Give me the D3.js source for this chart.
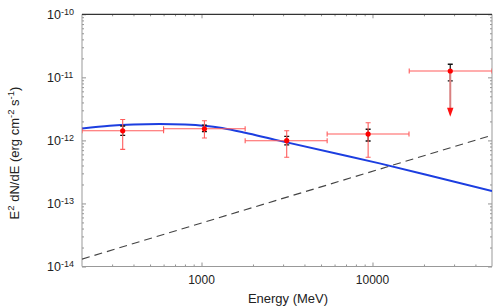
<!DOCTYPE html>
<html>
<head>
<meta charset="utf-8">
<script src="https://cdn.jsdelivr.net/npm/d3@7"></script>
<style>
  body { margin: 0; background: #fff; }
  text { font-family: "Liberation Sans", Arial, sans-serif; fill: #222; }
</style>
</head>
<body>
<div id="chart"></div>
<script>
// data points (energy in MeV, flux in erg cm^-2 s^-1)
var energy   = [346, 1040, 3150, 9430, 28500];
var eLow     = [200, 600, 1800, 5430, 16400];
var eHigh    = [600, 1800, 5430, 16350, 50000];
var flux     = [1.42e-12, 1.53e-12, 9.9e-13, 1.26e-12, 1.26e-11];
var statLow  = [1.2e-12, 1.38e-12, 8.5e-13, 9.8e-13, 8.8e-12];
var statHigh = [1.69e-12, 1.75e-12, 1.16e-12, 1.5e-12, 1.61e-11];
var sysLow   = [7.2e-13, 1.09e-12, 5.4e-13, 5.4e-13, null];
var sysHigh  = [2.15e-12, 2.05e-12, 1.42e-12, 1.9e-12, null];
var upperLimitTo = [null, null, null, null, 2.37e-12];

// blue model curve
var modelE    = [200, 290, 400, 570, 800, 1040, 1320, 1800, 2800, 11000, 50000];
var modelFlux = [1.55e-12, 1.71e-12, 1.79e-12, 1.82e-12, 1.79e-12, 1.71e-12, 1.57e-12, 1.32e-12, 1.0e-12, 4.32e-13, 1.58e-13];

// dashed line
var dashE    = [200, 50000];
var dashFlux = [1.31e-14, 1.21e-12];

// tick labels
var xTicks = [1000, 10000];
var xTickLabels = ["1000", "10000"];
var yTicks = [1e-10, 1e-11, 1e-12, 1e-13, 1e-14];
var yTickExp = ["-10", "-11", "-12", "-13", "-14"];

var W = 496, H = 308;
var pLeft = 82, pRight = 492, pTop = 14.3, pBottom = 266.5;

var svg = d3.select("#chart").append("svg")
    .attr("width", W).attr("height", H);

var x = d3.scaleLog().domain([200, 50000]).range([pLeft, pRight]);
var y = d3.scaleLog().domain([1e-14, 1e-10]).range([pBottom, pTop]);

var minorX = x.ticks().filter(function (d) { return xTicks.indexOf(d) < 0 && d > 200 && d < 50000; });
var minorY = y.ticks().filter(function (d) { return yTicks.indexOf(d) < 0; });

//////////
// AXES //
//////////
function drawTicks(axisFn, transform, majors, minors, majorLen, minorLen) {
    var g = svg.append("g").attr("transform", transform);
    g.call(axisFn(majors, majorLen));
    g.append("g").call(axisFn(minors, minorLen));
    g.selectAll(".domain").remove();
    g.selectAll("line").attr("stroke", "#777").attr("stroke-width", 0.8);
    g.selectAll("text").remove();
    return g;
}

drawTicks(function (v, l) { return d3.axisBottom(x).tickValues(v).tickSize(-l); },
    "translate(0," + pBottom + ")", xTicks, minorX, 4, 2);
drawTicks(function (v, l) { return d3.axisTop(x).tickValues(v).tickSize(-l); },
    "translate(0," + pTop + ")", xTicks, minorX, 4, 2);
drawTicks(function (v, l) { return d3.axisLeft(y).tickValues(v).tickSize(-l); },
    "translate(" + pLeft + ",0)", yTicks, minorY, 4, 2);
drawTicks(function (v, l) { return d3.axisRight(y).tickValues(v).tickSize(-l); },
    "translate(" + pRight + ",0)", yTicks, minorY, 4, 2);

// frame
svg.append("path")
    .attr("d", "M" + pLeft + "," + pTop + "V" + pBottom + "H" + pRight + "V" + pTop)
    .attr("fill", "none").attr("stroke", "#999").attr("stroke-width", 1);
svg.append("line")
    .attr("x1", pLeft).attr("x2", pRight).attr("y1", pTop).attr("y2", pTop)
    .attr("stroke", "#333").attr("stroke-width", 1.2);

// x tick labels
svg.selectAll(".xlab").data(xTicks).enter().append("text")
    .attr("x", function (d) { return x(d); })
    .attr("y", 284)
    .attr("text-anchor", "middle")
    .style("font-size", "12px")
    .text(function (d, i) { return xTickLabels[i]; });

// y tick labels with superscript exponent
yTicks.forEach(function (d, i) {
    svg.append("text")
        .attr("x", 61)
        .attr("y", y(d) + 4.8)
        .attr("text-anchor", "end")
        .style("font-size", "12.5px")
        .text("10");
    svg.append("text")
        .attr("x", 61)
        .attr("y", y(d) + 0.5)
        .style("font-size", "9px")
        .text(yTickExp[i]);
});

// axis titles
svg.append("text")
    .attr("x", (pLeft + pRight) / 2 + 1)
    .attr("y", 303)
    .attr("text-anchor", "middle")
    .style("font-size", "13px")
    .text("Energy (MeV)");

var yt = svg.append("text")
    .attr("transform", "translate(19,153) rotate(-90)")
    .attr("text-anchor", "middle")
    .style("font-size", "13px");
yt.append("tspan").text("E");
yt.append("tspan").attr("dy", -5).style("font-size", "9.5px").text("2");
yt.append("tspan").attr("dy", 5).text(" dN/dE (erg cm");
yt.append("tspan").attr("dy", -5).style("font-size", "9.5px").text("-2");
yt.append("tspan").attr("dy", 5).text(" s");
yt.append("tspan").attr("dy", -5).style("font-size", "9.5px").text("-1");
yt.append("tspan").attr("dy", 5).text(")");

///////////
// LINES //
///////////
svg.append("clipPath").attr("id", "clip")
    .append("rect").attr("x", pLeft).attr("y", pTop)
    .attr("width", pRight - pLeft).attr("height", pBottom - pTop);

var plot = svg.append("g").attr("clip-path", "url(#clip)");

var dashData = dashE.map(function (e, i) { return [e, dashFlux[i]]; });
plot.append("path")
    .datum(dashData)
    .attr("d", d3.line().x(function (d) { return x(d[0]); }).y(function (d) { return y(d[1]); }))
    .attr("fill", "none").attr("stroke", "#444").attr("stroke-width", 1.15)
    .attr("stroke-dasharray", "8,5");

var modelData = modelE.map(function (e, i) { return [e, modelFlux[i]]; });
plot.append("path")
    .datum(modelData)
    .attr("d", d3.line().curve(d3.curveCatmullRom)
        .x(function (d) { return x(d[0]); }).y(function (d) { return y(d[1]); }))
    .attr("fill", "none").attr("stroke", "#1c3ee0").attr("stroke-width", 2);

////////////
// POINTS //
////////////
var redErr = "#ff5c5c";
var pts = energy.map(function (e, i) {
    return { e: e, lo: eLow[i], hi: eHigh[i], f: flux[i], sl: statLow[i], sh: statHigh[i],
             yl: sysLow[i], yh: sysHigh[i], ul: upperLimitTo[i] };
});

pts.forEach(function (p) {
    var cx = x(p.e), cy = y(p.f);
    // horizontal energy bin
    plot.append("line").attr("x1", x(p.lo)).attr("x2", x(p.hi)).attr("y1", cy).attr("y2", cy)
        .attr("stroke", redErr).attr("stroke-width", 1.1);
    [p.lo, p.hi].forEach(function (e) {
        plot.append("line").attr("x1", x(e)).attr("x2", x(e)).attr("y1", cy - 2.5).attr("y2", cy + 2.5)
            .attr("stroke", redErr).attr("stroke-width", 1.1);
    });
    // black statistical error
    plot.append("line").attr("x1", cx).attr("x2", cx).attr("y1", y(p.sh)).attr("y2", y(p.sl))
        .attr("stroke", "#111").attr("stroke-width", 1.2);
    [p.sl, p.sh].forEach(function (v) {
        plot.append("line").attr("x1", cx - 2.5).attr("x2", cx + 2.5).attr("y1", y(v)).attr("y2", y(v))
            .attr("stroke", "#111").attr("stroke-width", 1.4);
    });
    // red systematic error
    if (p.yl != null) {
        plot.append("line").attr("x1", cx).attr("x2", cx).attr("y1", y(p.yh)).attr("y2", y(p.yl))
            .attr("stroke", redErr).attr("stroke-width", 1.1);
        [p.yl, p.yh].forEach(function (v) {
            plot.append("line").attr("x1", cx - 2.5).attr("x2", cx + 2.5).attr("y1", y(v)).attr("y2", y(v))
                .attr("stroke", redErr).attr("stroke-width", 1.1);
        });
    }
    // upper limit arrow
    if (p.ul != null) {
        var tip = y(p.ul);
        plot.append("line").attr("x1", cx).attr("x2", cx).attr("y1", cy).attr("y2", tip - 8)
            .attr("stroke", "#d98080").attr("stroke-width", 2);
        plot.append("path")
            .attr("d", "M" + (cx - 3.2) + "," + (tip - 9) + "L" + (cx + 3.2) + "," + (tip - 9) + "L" + cx + "," + tip + "Z")
            .attr("fill", "#ff1010");
    }
    plot.append("circle").attr("cx", cx).attr("cy", cy).attr("r", 2.6).attr("fill", "#ff0000");
});
</script>
</body>
</html>
